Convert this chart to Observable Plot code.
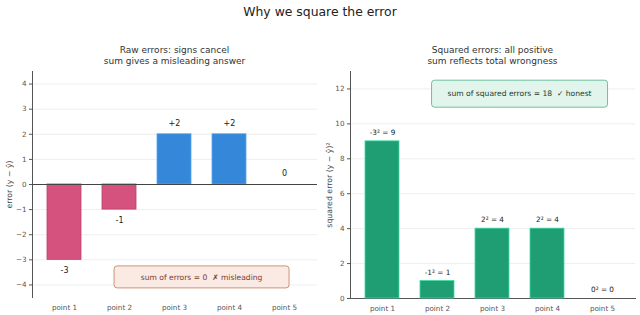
<!DOCTYPE html>
<html>
<head>
<meta charset="utf-8">
<script src="https://cdn.jsdelivr.net/npm/d3@7"></script>
<script src="https://cdn.jsdelivr.net/npm/@observablehq/plot@0.6"></script>
<style>
  html, body { margin: 0; padding: 0; background: #fff; }
  #chart { position: relative; width: 640px; height: 315px; font-family: "DejaVu Sans", sans-serif; color: #222; }
  #title { position: absolute; left: 0; top: 4px; width: 640px; text-align: center; font-size: 12.4px; line-height: 16px; color: #222; }
  .panel { position: absolute; top: 45px; width: 320px; }
  .sub { text-align: center; font-size: 9px; line-height: 11px; color: #333; height: 23px; }
  #left .sub { padding: 0 3px 0 32px; }
  #right .sub { padding: 0 5px 0 30px; }
  .panel svg { display: block; }
</style>
</head>
<body>
<div id="chart">
  <div id="title">Why we square the error</div>
  <div class="panel" id="left" style="left:0">
    <div class="sub">Raw errors: signs cancel<br>sum gives a misleading answer</div>
  </div>
  <div class="panel" id="right" style="left:320px">
    <div class="sub">Squared errors: all positive<br>sum reflects total wrongness</div>
  </div>
</div>
<script>
// five observations and their residuals
const points = ["point 1", "point 2", "point 3", "point 4", "point 5"];
const errors = [-3, -1, 2, 2, 0];
const errorLabels = ["-3", "-1", "+2", "+2", "0"];
const squared = [9, 1, 4, 4, 0];
const squaredLabels = ["-3\u00b2 = 9", "-1\u00b2 = 1", "2\u00b2 = 4", "2\u00b2 = 4", "0\u00b2 = 0"];
const rawTicks = [-4, -3, -2, -1, 0, 1, 2, 3, 4];
const sqTicks = [0, 2, 4, 6, 8, 10, 12];

const raw = points.map((p, i) => ({point: p, value: errors[i], label: errorLabels[i]}));
const sq = points.map((p, i) => ({point: p, value: squared[i], label: squaredLabels[i]}));

const PAD = 0.38;

// rounded annotation box centred between two categories at a given y value
function noteBox(text, between, yValue, style) {
  return (index, scales) => {
    const x = scales.x, y = scales.y;
    const a = x(between[0]), b = x(between[1]);
    const step = b - a;
    const cx = (a + b) / 2 + step * (1 - PAD) / 2;
    const cy = y(yValue);
    const g = d3.create("svg:g");
    g.append("rect")
      .attr("x", cx - style.w / 2).attr("y", cy - style.h / 2)
      .attr("width", style.w).attr("height", style.h)
      .attr("rx", 3).attr("ry", 3)
      .attr("fill", style.fill).attr("stroke", style.stroke).attr("stroke-width", 1);
    g.append("text")
      .attr("x", cx).attr("y", cy).attr("dy", "0.35em")
      .attr("text-anchor", "middle")
      .attr("font-size", 7.6)
      .attr("fill", style.color)
      .text(text);
    return g.node();
  };
}

// rotated axis title placed left of the frame, centred vertically
const axisTitle = (text, dx) =>
  Plot.text([text], {frameAnchor: "left", textAnchor: "middle", text: d => d, rotate: -90, dx, fontSize: 7.8, fill: "#444"});

const common = {
  width: 320,
  height: 247,
  marginTop: 3,
  style: {fontFamily: "DejaVu Sans, sans-serif", fontSize: "7.2px", color: "#555", background: "transparent"}
};

const xBand = {
  type: "band", domain: points, paddingInner: PAD, paddingOuter: 0.246,
  tickSize: 0, tickPadding: 7, label: null
};

const leftPlot = Plot.plot({
  ...common,
  marginLeft: 32,
  marginRight: 3,
  marginBottom: 18,
  x: xBand,
  y: {
    domain: [-4.5, 4.5], ticks: rawTicks, grid: true, line: true,
    tickSize: 3, tickPadding: 3, label: null
  },
  marks: [
    Plot.barY(raw, {
      x: "point", y: "value",
      fill: d => d.value < 0 ? "#d6527e" : "#3587d9",
      stroke: d => d.value < 0 ? "#b8426a" : "#5aa6ee",
      strokeWidth: 0.8
    }),
    Plot.ruleY([0], {stroke: "#444", strokeWidth: 1.1}),
    Plot.text(raw.filter(d => d.value >= 0), {x: "point", y: "value", text: "label", dy: -11, fontSize: 8, fill: "#222"}),
    Plot.text(raw.filter(d => d.value < 0), {x: "point", y: "value", text: "label", dy: 11, fontSize: 8, fill: "#222"}),
    axisTitle("error (y \u2212 \u0177)", -23),
    noteBox("sum of errors = 0  \u2717 misleading", ["point 3", "point 4"], -3.7,
      {w: 175, h: 22, fill: "#fbeae3", stroke: "#c8957a", color: "#7a3b2c"})
  ]
});

const rightPlot = Plot.plot({
  ...common,
  marginLeft: 30,
  marginRight: 5,
  marginBottom: 17,
  x: {...xBand, line: true},
  y: {
    domain: [0, 13], ticks: sqTicks, grid: true, line: true,
    tickSize: 3, tickPadding: 3, label: null
  },
  marks: [
    Plot.barY(sq, {x: "point", y: "value", fill: "#1f9e74", stroke: "#3ddba0", strokeWidth: 0.8}),
    Plot.text(sq, {x: "point", y: "value", text: "label", dy: -8.5, fontSize: 7.3, fill: "#222"}),
    axisTitle("squared error (y \u2212 \u0177)\u00b2", -21),
    noteBox("sum of squared errors = 18  \u2713 honest", ["point 3", "point 4"], 11.7,
      {w: 176, h: 27, fill: "#e1f5ed", stroke: "#6dbf9f", color: "#1e3a30"})
  ]
});

document.getElementById("left").appendChild(leftPlot);
document.getElementById("right").appendChild(rightPlot);
</script>
</body>
</html>
